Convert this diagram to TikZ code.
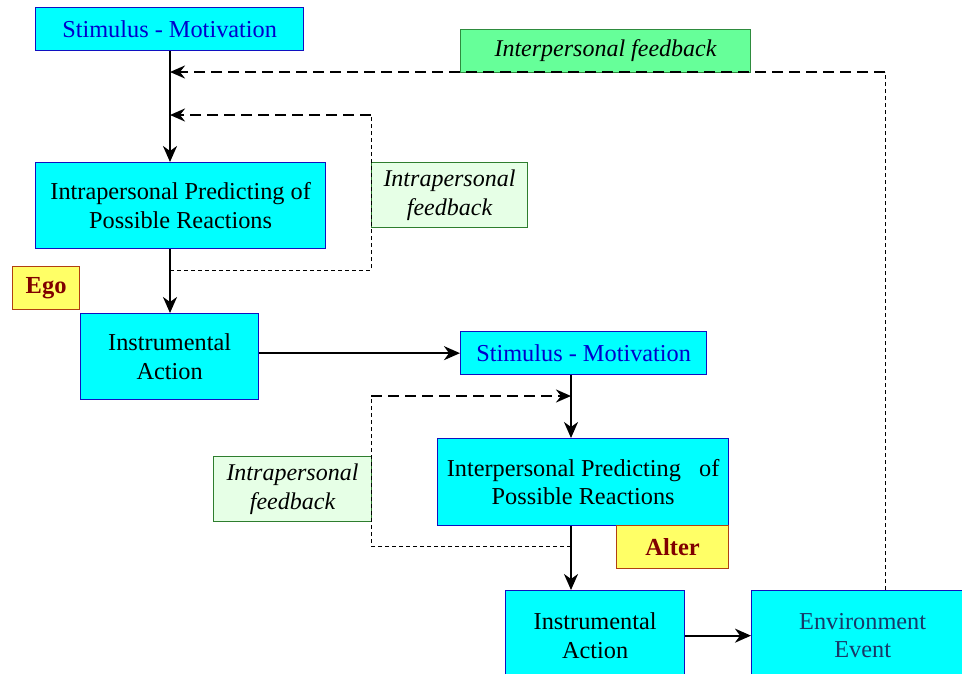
\documentclass[tikz,border=0pt]{standalone}
\usepackage{fontspec}
\setmainfont{Liberation Serif}
\usetikzlibrary{arrows.meta}

\definecolor{boxfill}{HTML}{00FFFF}
\definecolor{boxline}{HTML}{1010C0}
\definecolor{stimtext}{HTML}{0000CC}
\definecolor{envtext}{HTML}{183868}
\definecolor{fbfill}{HTML}{E6FFE6}
\definecolor{fbline}{HTML}{2E7D2E}
\definecolor{ifbfill}{HTML}{66FF99}
\definecolor{ifbline}{HTML}{2E8B3E}
\definecolor{tagfill}{HTML}{FFFF66}
\definecolor{tagline}{HTML}{B04010}
\definecolor{tagtext}{HTML}{800000}

\tikzset{
  box/.style={draw=boxline, line width=1.3pt, fill=boxfill, anchor=north west,
    inner sep=0pt, align=center, font=\fontsize{24.3}{28.5}\selectfont},
  fbbox/.style={draw=fbline, line width=1pt, fill=fbfill, anchor=north west,
    inner sep=0pt, align=center, font=\fontsize{24}{28.5}\selectfont\itshape},
  ifbbox/.style={draw=ifbline, line width=1pt, fill=ifbfill, anchor=north west,
    inner sep=0pt, align=center, font=\fontsize{24}{28.5}\selectfont\itshape},
  tagbox/.style={draw=tagline, line width=1.2pt, fill=tagfill, anchor=north west,
    inner sep=0pt, align=center, text=tagtext,
    font=\fontsize{24.5}{28}\selectfont\bfseries},
  flow/.style={line width=2pt, -{Stealth[length=16pt,width=14pt,inset=5pt]}},
  fbarrow/.style={line width=2.5pt, dash pattern=on 11pt off 6pt,
    -{Stealth[length=15pt,width=13pt,inset=5pt]}},
  fbdash/.style={line width=1pt, dash pattern=on 4pt off 3pt},
}

\begin{document}
\begin{tikzpicture}[x=1pt,y=-1pt]
\useasboundingbox (0,0) rectangle (962,673);
\begin{scope}
\clip (0,0) rectangle (962,673);

% Ego side
\node[box, minimum width=268pt, minimum height=43pt, text=stimtext] (sm1) at (35,7) {Stimulus - Motivation};
\node[box, minimum width=290pt, minimum height=86pt] (ip1) at (35,162) {Intrapersonal Predicting of\\Possible Reactions};
\node[fbbox, minimum width=156pt, minimum height=65pt] (fb1) at (371,162) {Intrapersonal\\feedback};
\node[tagbox, minimum width=67pt, minimum height=43pt] (ego) at (12,266) {Ego};
\node[box, minimum width=178pt, minimum height=86pt] (ia1) at (80,313) {Instrumental\\Action};

% Alter side
\node[box, minimum width=246pt, minimum height=43pt, text=stimtext] (sm2) at (460,331) {Stimulus - Motivation};
\node[fbbox, minimum width=158pt, minimum height=65pt] (fb2) at (213,456) {Intrapersonal\\feedback};
\node[box, minimum width=291pt, minimum height=87pt] (ip2) at (437,438) {Interpersonal Predicting\ \ \ of\\Possible Reactions};
\node[tagbox, minimum width=112pt, minimum height=43pt] (alter) at (616,525) {Alter};
\node[box, minimum width=179pt, minimum height=90pt] (ia2) at (505,590) {Instrumental\\Action};
\node[box, minimum width=222pt, minimum height=90pt, text=envtext] (env) at (751,590) {Environment\\Event};

% Interpersonal feedback label
\node[ifbbox, minimum width=290pt, minimum height=43pt] (ifb) at (460,29) {Interpersonal feedback};

% guide coordinates for the vertical flow lines
\coordinate (ax) at (170,0);
\coordinate (bx) at (571,0);
\coordinate (ret) at (885,72);
\coordinate (f1top) at (371,115);
\coordinate (f1bot) at (371,270);
\coordinate (f2top) at (371,396);
\coordinate (f2bot) at (371,546);

% main flow
\draw[flow] (ax |- sm1.south) -- (ax |- ip1.north);
\draw[flow] (ax |- ip1.south) -- (ax |- ia1.north);
\draw[flow] (ia1.east |- sm2.west) -- (sm2.west);
\draw[flow] (bx |- sm2.south) -- (bx |- ip2.north);
\draw[flow] (bx |- ip2.south) -- (bx |- ia2.north);
\draw[flow] (ia2.east |- env.west) -- (env.west);

% intrapersonal feedback loops
\draw[fbdash] (ax |- f1bot) -- (f1bot) -- (f1top);
\draw[fbarrow] (f1top) -- (ax |- f1top);
\draw[fbdash] (bx |- f2bot) -- (f2bot) -- (f2top);
\draw[fbarrow] (f2top) -- (bx |- f2top);

% interpersonal feedback loop
\draw[fbdash] (ret |- env.north) -- (ret);
\draw[fbarrow] (ret) -- (ax |- ret);
\end{scope}
\end{tikzpicture}
\end{document}
